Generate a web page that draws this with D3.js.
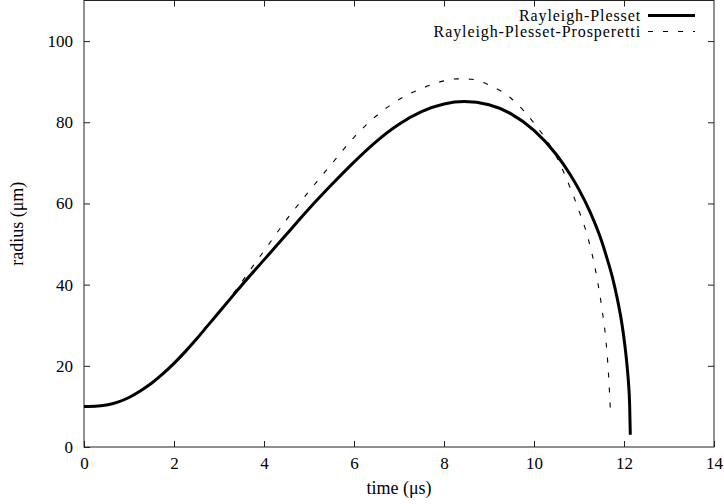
<!DOCTYPE html>
<html><head><meta charset="utf-8">
<script src="https://cdn.jsdelivr.net/npm/d3@7"></script>
<style>html,body{margin:0;padding:0;background:#fff;}svg{display:block;} svg text{font-family:"Liberation Serif","Times New Roman",serif !important;}</style>
</head><body>
<script>
const xTicks = [0, 2, 4, 6, 8, 10, 12, 14];
const yTicks = [0, 20, 40, 60, 80, 100];
const seriesNames = ["Rayleigh-Plesset", "Rayleigh-Plesset-Prosperetti"];
const rpTime   = [0,0.25,0.5,0.75,1.0,1.25,1.5,1.75,2.0,2.25,2.5,2.75,3.0,3.25,3.5,4.0,4.5,5.0,5.5,6.0,6.5,7.0,7.5,8.0,8.45,9.0,9.5,10.0,10.5,10.8,11.0,11.25,11.5,11.6,11.75,11.85,11.95,12.02,12.07,12.1,12.125,12.14];
const rpRadius = [10,10.05,10.35,11.05,12.2,13.8,15.7,18.0,20.6,23.5,26.6,29.9,33.2,36.5,39.8,46.1,52.4,58.7,64.6,70.2,75.3,79.5,82.6,84.5,85.1,84.3,82.0,78.0,72.0,67.2,63.4,57.8,50.8,47.3,41.5,36.6,30.6,25.0,19.8,15.8,10.5,3.0];
const rppTime   = [0,0.25,0.5,0.75,1.0,1.25,1.5,1.75,2.0,2.25,2.5,2.75,3.0,3.25,3.5,3.75,4.0,4.5,5.0,5.5,6.0,6.5,7.0,7.5,8.0,8.3,8.6,9.0,9.5,10.0,10.5,10.8,11.0,11.2,11.35,11.5,11.6,11.65,11.7];
const rppRadius = [10,10.05,10.35,11.05,12.2,13.8,15.7,18.0,20.6,23.5,26.6,29.9,33.3,36.8,40.6,44.5,48.3,56.0,63.0,69.7,76.3,81.6,85.6,88.3,90.2,90.7,90.6,89.2,85.8,79.8,71.5,64.0,58.2,51.5,44.5,34.8,26.0,19.0,8.5];

const W = 724, H = 504;
const L = 84, R = 714, T = 0.5, B = 447;
const svg = d3.select("body").append("svg").attr("width", W).attr("height", H);
const x = d3.scaleLinear().domain([0, 14]).range([L, R]);
const y = d3.scaleLinear().domain([0, 110]).range([B, T]);

const tickLen = 6;
const axisColor = "#222";
svg.append("rect").attr("x", L).attr("y", T).attr("width", R - L).attr("height", B - T)
  .attr("fill", "none").attr("stroke", axisColor).attr("stroke-width", 1);

const gx = svg.append("g").attr("transform", `translate(0,${B})`)
  .call(d3.axisBottom(x).tickValues(xTicks).tickSize(-tickLen).tickPadding(tickLen + 4).tickFormat(d3.format("d")));
const gxTop = svg.append("g").attr("transform", `translate(0,${T})`)
  .call(d3.axisTop(x).tickValues(xTicks.slice(1, -1)).tickSize(-tickLen).tickFormat(""));
const gy = svg.append("g").attr("transform", `translate(${L},0)`)
  .call(d3.axisLeft(y).tickValues(yTicks).tickSize(-tickLen).tickPadding(tickLen + 5).tickFormat(d3.format("d")));
const gyR = svg.append("g").attr("transform", `translate(${R},0)`)
  .call(d3.axisRight(y).tickValues(yTicks.slice(1)).tickSize(-tickLen).tickFormat(""));
[gx, gxTop, gy, gyR].forEach(g => {
  g.attr("font-family", null);
  g.select(".domain").remove();
  g.selectAll(".tick line").attr("stroke", axisColor).attr("stroke-width", 1);
  g.selectAll(".tick text").attr("fill", "#000").attr("font-size", 17);
});
gx.selectAll(".tick text").attr("dy", "0.71em");

svg.append("text").attr("x", (L + R) / 2).attr("y", 494).attr("text-anchor", "middle")
  .attr("font-size", 18).text("time (μs)");
svg.append("text").attr("transform", `translate(23,${(T + B) / 2}) rotate(-90)`)
  .attr("text-anchor", "middle").attr("font-size", 18).text("radius (μm)");

const line = d3.line().x(d => x(d[0])).y(d => y(d[1])).curve(d3.curveMonotoneX);
const rp = rpTime.map((t, i) => [t, rpRadius[i]]);
const rpp = rppTime.map((t, i) => [t, rppRadius[i]]);
svg.append("path").datum(rpp).attr("d", line).attr("fill", "none")
  .attr("stroke", "#000").attr("stroke-width", 1.1).attr("stroke-dasharray", "5,10");
svg.append("path").datum(rp).attr("d", line).attr("fill", "none")
  .attr("stroke", "#000").attr("stroke-width", 3);

const legX1 = 648, legX2 = 695, textX = 641;
const leg = svg.append("g");
seriesNames.forEach((name, i) => {
  const ly = 15.5 + i * 16;
  leg.append("text").attr("x", textX).attr("y", ly + 5).attr("text-anchor", "end")
    .attr("font-size", 16).attr("letter-spacing", 0.9).text(name);
  leg.append("line").attr("x1", legX1).attr("x2", legX2).attr("y1", ly).attr("y2", ly)
    .attr("stroke", "#000").attr("stroke-width", i === 0 ? 3 : 1.1)
    .attr("stroke-dasharray", i === 0 ? null : "5,10");
});
</script>
</body></html>
